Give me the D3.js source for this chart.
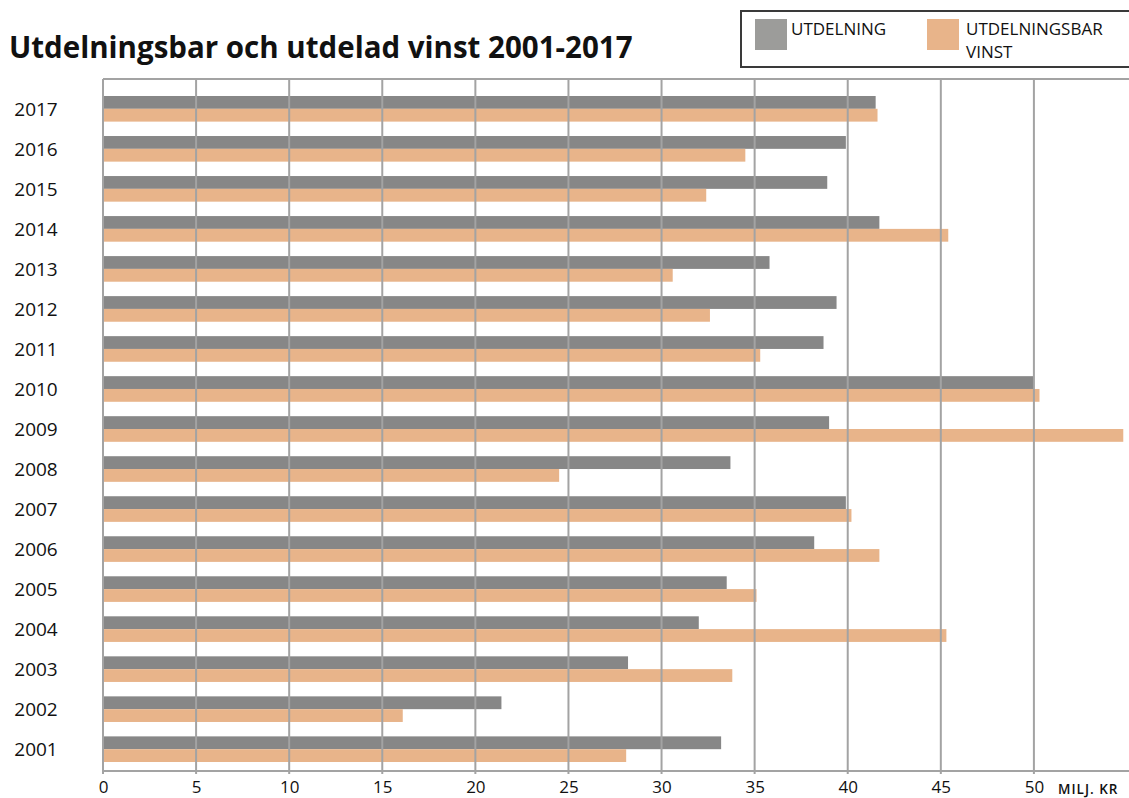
<!DOCTYPE html>
<html>
<head>
<meta charset="utf-8">
<script src="https://cdn.jsdelivr.net/npm/d3@7"></script>
<style>
  body { margin: 0; background: #fff; }
  text { font-family: "Open Sans", "Noto Sans", sans-serif; }
</style>
</head>
<body>
<div id="chart"></div>
<script>
// data (milj. kr)
const years = ["2017", "2016", "2015", "2014", "2013", "2012", "2011", "2010", "2009",
               "2008", "2007", "2006", "2005", "2004", "2003", "2002", "2001"]
const utdelning = [41.5, 39.9, 38.9, 41.7, 35.8, 39.4, 38.7, 50.0, 39.0,
                   33.7, 39.9, 38.2, 33.5, 32.0, 28.2, 21.4, 33.2]
const utdelningsbar = [41.6, 34.5, 32.4, 45.4, 30.6, 32.6, 35.3, 50.3, 54.8,
                       24.5, 40.2, 41.7, 35.1, 45.3, 33.8, 16.1, 28.1]
const xTicks = [0, 5, 10, 15, 20, 25, 30, 35, 40, 45, 50]

const width = 1129, height = 798
const plotLeft = 103, plotRight = 1127, plotTop = 79, plotBottom = 771
const grayCol = "#878787", orangeCol = "#e8b48a", gridCol = "#a3a3a3"

const svg = d3.select("#chart").append("svg")
    .attr("width", width)
    .attr("height", height)

const x = d3.scaleLinear().domain([0, 55]).range([plotLeft, plotRight])
const y = d3.scaleBand().domain(years).range([96, 762]).paddingInner(0.36).paddingOuter(0)
const sub = d3.scaleBand().domain(["u", "b"]).range([0, y.bandwidth()])

// title
svg.append("text")
    .attr("x", 9)
    .attr("y", 58)
    .style("font-size", "29.5px")
    .style("font-weight", "700")
    .style("fill", "#111")
    .text("Utdelningsbar och utdelad vinst 2001-2017")

// legend
const leg = svg.append("g")
leg.append("rect")
    .attr("x", 741).attr("y", 11)
    .attr("width", 400).attr("height", 56)
    .attr("fill", "none")
    .attr("stroke", "#3a3a3a")
    .attr("stroke-width", 2)
leg.append("rect").attr("x", 755).attr("y", 19).attr("width", 32).attr("height", 31).attr("fill", "#9c9c9a")
leg.append("text").attr("x", 791).attr("y", 35).style("font-size", "17px").style("fill", "#111").text("UTDELNING")
leg.append("rect").attr("x", 927).attr("y", 19).attr("width", 32).attr("height", 31).attr("fill", orangeCol)
leg.append("text").attr("x", 966).attr("y", 35).style("font-size", "17px").style("fill", "#111").text("UTDELNINGSBAR")
leg.append("text").attr("x", 966).attr("y", 58).style("font-size", "17px").style("fill", "#111").text("VINST")

// bars
const rows = svg.append("g").selectAll("g")
    .data(years)
  .enter().append("g")
    .attr("transform", d => `translate(0,${y(d)})`)

rows.append("rect")
    .attr("x", x(0))
    .attr("y", sub("u"))
    .attr("height", sub.bandwidth())
    .attr("width", (d, i) => x(utdelning[i]) - x(0))
    .attr("fill", grayCol)

rows.append("rect")
    .attr("x", x(0))
    .attr("y", sub("b"))
    .attr("height", sub.bandwidth())
    .attr("width", (d, i) => x(utdelningsbar[i]) - x(0))
    .attr("fill", orangeCol)

// year labels
rows.append("text")
    .attr("x", 36)
    .attr("y", y.bandwidth() / 2 + 7)
    .attr("text-anchor", "middle")
    .style("font-size", "19px")
    .style("fill", "#111")
    .text(d => d)

// grid on top of bars
const grid = svg.append("g")
grid.selectAll("line.g")
    .data(xTicks.slice(1))
  .enter().append("line")
    .attr("x1", d => x(d)).attr("x2", d => x(d))
    .attr("y1", plotTop).attr("y2", plotBottom + 3)
    .attr("stroke", gridCol)
    .attr("stroke-width", 2)

grid.append("line")
    .attr("x1", plotLeft).attr("x2", width).attr("y1", plotTop).attr("y2", plotTop)
    .attr("stroke", gridCol).attr("stroke-width", 2)
grid.append("line")
    .attr("x1", plotLeft).attr("x2", width).attr("y1", plotBottom).attr("y2", plotBottom)
    .attr("stroke", gridCol).attr("stroke-width", 2)
grid.append("line")
    .attr("x1", plotLeft).attr("x2", plotLeft).attr("y1", plotTop).attr("y2", plotBottom + 3)
    .attr("stroke", gridCol).attr("stroke-width", 2)

// x axis labels
const xAxis = d3.axisBottom(x).tickValues(xTicks).tickSize(0).tickPadding(0)
const ax = svg.append("g")
    .attr("transform", `translate(0,${plotBottom + 10})`)
    .call(xAxis)
ax.select(".domain").remove()
ax.selectAll("text")
    .style("font-family", "'Open Sans', sans-serif")
    .style("font-size", "17px")
    .style("fill", "#111")

svg.append("text")
    .attr("x", 1058)
    .attr("y", 794)
    .style("font-size", "13.5px")
    .style("font-weight", "600")
    .style("letter-spacing", "1px")
    .style("fill", "#111")
    .text("MILJ. KR")
</script>
</body>
</html>
